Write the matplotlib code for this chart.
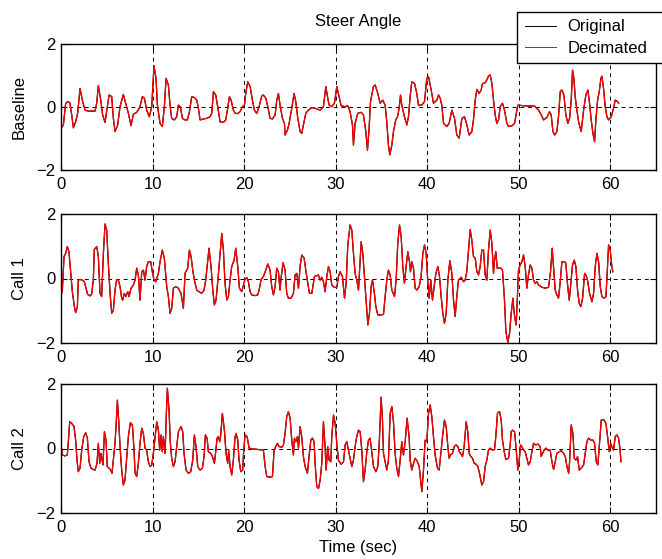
import matplotlib
matplotlib.use("Agg")
import matplotlib.pyplot as plt

plt.rcParams['font.family'] = ['Liberation Sans', 'DejaVu Sans']
plt.rcParams['font.size'] = 12

# Baseline steer angle (time in sec, value)
t_base = [0.00, 0.26, 0.51, 0.80, 0.98, 1.17, 1.35, 1.60, 1.82, 2.08, 2.33, 2.62, 2.99, 3.72, 3.90,
          4.08, 4.34, 4.55, 4.81, 5.06, 5.25, 5.54, 5.72, 5.90, 6.19, 6.45, 6.81, 7.07, 7.36, 7.65,
          7.91, 8.27, 8.63, 8.89, 9.11, 9.36, 9.65, 9.91, 10.16, 10.38, 10.53, 10.82, 11.07, 11.29,
          11.48, 11.73, 11.91, 12.09, 12.39, 12.64, 12.82, 13.04, 13.26, 13.55, 13.81, 14.03, 14.28,
          14.57, 14.83, 15.01, 15.19, 15.56, 15.92, 16.28, 16.47, 16.65, 16.90, 17.12, 17.38, 17.74,
          18.00, 18.21, 18.40, 18.58, 18.83, 19.02, 19.31, 19.56, 19.82, 20.04, 20.18, 20.40, 20.66,
          20.91, 21.13, 21.38, 21.64, 21.93, 22.11, 22.37, 22.59, 22.84, 23.10, 23.39, 23.57, 23.75,
          23.93, 24.19, 24.41, 24.48, 24.74, 24.92, 25.21, 25.46, 25.65, 25.87, 26.12, 26.30, 26.48,
          26.74, 27.03, 27.40, 27.76, 28.31, 28.67, 28.93, 29.11, 29.29, 29.58, 29.87, 30.13, 30.38,
          30.60, 31.04, 31.33, 31.58, 31.84, 31.95, 32.13, 32.42, 32.79, 33.04, 33.30, 33.48, 33.66,
          33.81, 34.13, 34.32, 34.61, 34.86, 35.15, 35.41, 35.59, 35.77, 35.92, 36.14, 36.32, 36.57,
          36.76, 36.94, 37.09, 37.23, 37.52, 37.78, 37.96, 38.14, 38.32, 38.62, 38.87, 39.05, 39.42,
          39.71, 39.96, 40.15, 40.44, 40.69, 41.06, 41.24, 41.42, 41.60, 41.79, 42.15, 42.40, 42.70,
          42.99, 43.24, 43.50, 43.79, 44.08, 44.34, 44.59, 44.88, 45.06, 45.25, 45.43, 45.68, 45.90,
          46.05, 46.27, 46.52, 46.70, 46.89, 47.07, 47.25, 47.43, 47.61, 47.80, 47.98, 48.23, 48.45,
          48.71, 48.89, 49.25, 49.55, 49.80, 49.91, 50.53, 51.26, 51.62, 51.80, 52.17, 52.46, 52.72,
          53.08, 53.37, 53.55, 53.74, 53.92, 54.17, 54.35, 54.54, 54.72, 54.94, 55.15, 55.37, 55.56,
          55.74, 55.88, 56.03, 56.17, 56.36, 56.54, 56.83, 57.09, 57.34, 57.56, 57.74, 57.92, 58.11,
          58.29, 58.43, 58.62, 58.80, 58.98, 59.09, 59.27, 59.45, 59.64, 59.82, 60.11, 60.36, 60.55,
          60.80, 60.91]
v_base = [-0.68, -0.57, 0.12, 0.17, 0.12, -0.25, -0.66, -0.47, -0.20, 0.59, 0.22, -0.10, -0.13, -0.13, 0.12,
          0.68, 0.22, -0.25, -0.49, 0.01, 0.38, 0.33, -0.36, -0.78, -0.57, 0.01, 0.40, 0.12, -0.20, -0.59,
          -0.23, -0.17, 0.01, 0.33, 0.28, -0.10, -0.31, 0.01, 1.31, 0.91, 0.06, -0.52, -0.62, 0.01,
          0.91, 0.70, 0.06, -0.36, -0.41, -0.31, 0.06, 0.01, -0.36, -0.41, -0.41, -0.15, 0.33,
          0.30, 0.22, -0.04, -0.41, -0.38, -0.36, -0.31, -0.20, 0.49, 0.38, 0.01, -0.47, -0.49,
          -0.41, -0.04, 0.33, 0.22, -0.10, -0.20, -0.21, -0.15, 0.01, 0.06, 0.43, 0.80, 0.65,
          0.22, -0.10, -0.20, 0.01, 0.35, 0.38, 0.28, 0.01, -0.36, -0.38, -0.25, 0.22, 0.43,
          0.06, -0.36, -0.52, -0.89, -0.73, -0.52, -0.04, 0.43, 0.17, -0.36, -0.78, -0.84, -0.57,
          -0.20, -0.10, -0.02, -0.04, -0.10, 0.01, 0.65, 0.33, 0.06, 0.01, 0.12, 0.65, 0.33,
          0.04, 0.01, 0.04, -0.15, -0.57, -1.21, -0.52, -0.20, -0.17, -0.25, -0.78, -1.37, -0.68,
          0.17, 0.65, 0.70, 0.43, 0.12, 0.22, 0.06, -0.47, -1.21, -1.52, -1.21, -0.78, -0.41,
          -0.31, -0.04, 0.38, 0.06, -0.31, -0.57, -0.31, 0.33, 0.80, 0.75, 0.43, 0.06, 0.06,
          0.17, 0.91, 0.96, 0.54, 0.12, 0.22, 0.38, 0.28, 0.06, -0.52, -0.62, -0.52, -0.10,
          -0.36, -0.89, -0.99, -0.36, -0.31, -0.57, -0.89, -0.78, -0.41, 0.22, 0.56, 0.43, 0.54,
          0.75, 0.75, 0.86, 0.98, 1.02, 0.75, 0.22, -0.25, -0.52, -0.41, 0.01, 0.12, -0.10,
          -0.52, -0.62, -0.60, -0.52, -0.10, 0.06, 0.04, 0.03, 0.04, 0.01, -0.10, -0.25, -0.41,
          -0.33, -0.15, -0.25, -0.78, -0.89, -0.78, -0.31, 0.49, 0.54, 0.38, -0.25, -0.52, -0.36,
          0.22, 1.17, 0.91, 0.33, -0.10, -0.47, -0.78, -0.10, 0.38, 0.54, 0.12, -0.41, -0.84,
          -1.10, -0.41, 0.22, 0.49, 0.91, 0.98, 0.59, 0.01, -0.31, -0.41, -0.31, -0.04, 0.22,
          0.17, 0.12]

# Call 1 steer angle
t_call1 = [0.00, 0.15, 0.33, 0.51, 0.69, 0.87, 1.06, 1.24, 1.46, 1.60, 1.79, 1.89, 2.08, 2.33, 2.55,
           2.73, 2.91, 3.17, 3.35, 3.53, 3.64, 3.90, 4.08, 4.26, 4.44, 4.63, 4.81, 4.99, 5.17, 5.36,
           5.54, 5.72, 5.90, 6.08, 6.27, 6.45, 6.63, 6.74, 6.92, 7.07, 7.29, 7.43, 7.65, 7.91, 8.09,
           8.27, 8.45, 8.63, 8.82, 9.00, 9.18, 9.36, 9.54, 9.80, 9.98, 10.16, 10.35, 10.64, 10.82,
           11.07, 11.29, 11.55, 11.73, 11.91, 12.09, 12.28, 12.53, 12.82, 13.11, 13.37, 13.55, 13.84,
           14.03, 14.21, 14.39, 14.57, 14.83, 15.08, 15.37, 15.63, 15.81, 16.03, 16.17, 16.39, 16.58,
           16.76, 16.94, 17.19, 17.41, 17.56, 17.74, 17.92, 18.11, 18.29, 18.47, 18.65, 18.91, 19.09,
           19.31, 19.49, 19.75, 19.93, 20.11, 20.29, 20.47, 20.66, 20.84, 21.20, 21.49, 21.64, 21.86,
           22.11, 22.37, 22.59, 22.84, 23.02, 23.21, 23.39, 23.57, 23.75, 23.93, 24.04, 24.26, 24.48,
           24.66, 24.84, 25.14, 25.39, 25.57, 25.76, 25.94, 26.12, 26.30, 26.56, 26.74, 26.96, 27.14,
           27.40, 27.69, 27.87, 28.12, 28.31, 28.49, 28.67, 28.85, 29.04, 29.22, 29.40, 29.58, 29.87,
           30.13, 30.31, 30.49, 30.75, 30.97, 31.15, 31.33, 31.58, 31.77, 31.95, 32.13, 32.31, 32.50,
           32.79, 32.97, 33.15, 33.33, 33.52, 33.70, 33.88, 34.03, 34.24, 34.39, 34.61, 34.98, 35.23,
           35.41, 35.59, 35.77, 35.96, 36.14, 36.43, 36.61, 36.79, 36.98, 37.16, 37.34, 37.52, 37.70,
           37.89, 38.07, 38.18, 38.32, 38.51, 38.69, 38.87, 39.13, 39.34, 39.53, 39.71, 39.89, 40.07,
           40.22, 40.40, 40.58, 40.77, 40.95, 41.17, 41.35, 41.53, 41.71, 41.89, 42.08, 42.26, 42.48,
           42.70, 42.88, 43.06, 43.24, 43.42, 43.72, 43.97, 44.15, 44.33, 44.52, 44.70, 44.88, 45.06,
           45.25, 45.43, 45.61, 45.79, 45.97, 46.16, 46.34, 46.52, 46.70, 46.89, 47.07, 47.25, 47.36,
           47.50, 47.65, 48.05, 48.23, 48.45, 48.60, 48.82, 49.00, 49.18, 49.37, 49.47, 49.62, 49.73,
           49.84, 49.98, 50.16, 50.35, 50.53, 50.71, 50.89, 51.07, 51.26, 51.44, 51.62, 51.80, 51.99,
           52.17, 52.53, 52.90, 53.26, 53.48, 53.66, 53.81, 53.99, 54.17, 54.35, 54.54, 54.72, 55.01,
           55.15, 55.34, 55.52, 55.70, 55.88, 56.07, 56.25, 56.43, 56.61, 56.79, 56.98, 57.20, 57.34,
           57.52, 57.74, 58.00, 58.18, 58.36, 58.55, 58.73, 58.91, 59.09, 59.34, 59.53, 59.64, 59.82,
           60.00, 60.18, 60.29]
v_call1 = [-0.56, -0.36, 0.68, 0.78, 0.99, 0.83, 0.21, -0.41, -0.87, -1.06, -0.87, -0.05, -0.03, -0.05, -0.10,
           -0.30, -0.49, -0.54, -0.48, -0.05, 0.90, 0.99, 0.68, -0.46, -0.56, 0.78, 1.69, 1.50, 0.47, -0.46,
           -1.08, -0.98, -0.36, -0.03, -0.05, -0.25, -0.61, -0.67, -0.46, -0.56, -0.41, -0.56, -0.30, -0.20, -0.05,
           0.32, 0.11, -0.67, 0.21, 0.26, -0.05, 0.37, 0.52, 0.52, 0.21, -0.05, -0.10, 0.16, 0.52,
           0.88, 0.63, -0.25, -0.56, -1.08, -0.93, -0.30, -0.25, -0.30, -0.46, -0.93, 0.16, 0.32,
           0.88, 0.68, 0.26, -0.05, -0.36, -0.41, -0.46, -0.36, -0.05, 0.57, 0.94, 0.37, -0.36,
           -0.82, -0.67, 0.11, 0.88, 1.40, 0.88, -0.15, -0.67, -0.56, -0.05, 0.37, 0.57, 0.94,
           0.37, -0.30, -0.41, -0.20, -0.02, 0.03, -0.10, -0.41, -0.51, -0.53, -0.51, -0.36, -0.03,
           0.06, 0.26, 0.45, 0.26, -0.25, -0.51, -0.25, 0.32, 0.21, -0.36, 0.01, 0.49, 0.26,
           -0.46, -0.61, -0.61, -0.46, 0.11, 0.16, -0.30, 0.37, 0.73, 0.63, 0.26, -0.15, -0.46,
           -0.46, 0.06, 0.08, 0.11, -0.05, 0.04, -0.10, -0.41, 0.06, 0.37, 0.21, -0.20, -0.28,
           -0.27, 0.06, 0.21, 0.06, -0.61, -0.15, 1.04, 1.66, 1.50, 0.78, 0.16, -0.05, -0.36,
           1.14, 0.78, 0.06, -0.67, -1.44, -1.08, -0.25, -0.05, -0.46, -0.87, -1.13, -1.13, -1.11,
           -0.56, -0.05, 0.26, 0.11, -0.36, -0.56, -0.05, 1.09, 1.66, 1.30, 0.37, -0.15, 0.37,
           0.83, 0.52, 0.21, 0.52, 0.32, -0.30, -0.36, -0.25, 0.06, 0.78, 1.04, 0.78, -0.10,
           -0.61, -0.05, -0.67, -0.25, 0.16, 0.37, 0.06, -0.56, -1.08, -1.39, -1.08, -0.05, 0.55,
           0.16, -0.67, -1.18, -0.56, -0.05, 0.04, -0.10, -0.05, 0.21, 0.88, 1.52, 1.19, 0.68,
           0.63, 0.21, 0.11, 0.37, 0.88, 0.88, 0.11, -0.05, 0.88, 1.50, 1.09, 0.16, 0.57,
           0.83, 0.32, 0.32, 0.26, -0.67, -1.65, -1.98, -1.70, -1.08, -0.61, -0.98, -1.29, -1.44,
           -0.67, 0.26, 0.42, 0.52, 0.73, 0.37, -0.30, 0.11, 0.42, 0.32, -0.05, -0.15, -0.10,
           -0.20, -0.27, -0.30, -0.27, 0.21, 0.94, 0.37, -0.36, -0.51, -0.61, -0.10, 0.52, 0.52,
           0.47, -0.20, -0.67, -0.15, 0.42, 0.57, 0.37, -0.36, -0.77, -0.87, -0.61, 0.16, 0.11,
           -0.05, -0.46, -0.72, -0.46, 0.37, 0.78, 0.52, -0.25, -0.56, -0.61, -0.56, 0.01, 1.04,
           0.88, 0.37, 0.21]

# Call 2 steer angle
t_call2 = [0.00, 0.15, 0.44, 0.69, 0.80, 0.95, 1.17, 1.42, 1.60, 1.75, 1.89, 2.08, 2.26, 2.48, 2.70,
           2.88, 3.06, 3.28, 3.53, 3.72, 3.93, 4.08, 4.23, 4.37, 4.59, 4.74, 4.92, 5.06, 5.25, 5.43,
           5.57, 5.72, 5.90, 6.05, 6.16, 6.30, 6.45, 6.63, 6.81, 6.99, 7.18, 7.36, 7.58, 7.80, 7.98,
           8.09, 8.27, 8.45, 8.63, 8.82, 9.00, 9.18, 9.36, 9.54, 9.73, 9.91, 10.09, 10.27, 10.46,
           10.64, 10.78, 10.93, 11.07, 11.18, 11.37, 11.51, 11.62, 11.80, 11.95, 12.09, 12.28, 12.46,
           12.64, 12.82, 13.11, 13.30, 13.44, 13.66, 13.92, 14.17, 14.39, 14.57, 14.75, 14.94, 15.19,
           15.45, 15.63, 15.77, 15.96, 16.10, 16.36, 16.54, 16.76, 16.90, 17.05, 17.19, 17.34, 17.45,
           17.63, 17.85, 18.03, 18.21, 18.32, 18.47, 18.65, 18.83, 19.02, 19.13, 19.31, 19.45, 19.64,
           19.85, 19.96, 20.11, 20.33, 20.55, 21.20, 22.11, 22.30, 22.48, 22.84, 23.10, 23.28, 23.46,
           23.64, 23.83, 24.12, 24.30, 24.48, 24.66, 24.84, 25.03, 25.21, 25.39, 25.50, 25.65, 25.83,
           25.94, 26.12, 26.30, 26.48, 26.67, 26.92, 27.10, 27.29, 27.47, 27.65, 27.76, 27.94, 28.13,
           28.31, 28.49, 28.67, 28.85, 28.96, 29.14, 29.29, 29.47, 29.58, 29.77, 29.95, 30.13, 30.31,
           30.60, 30.86, 31.04, 31.22, 31.40, 31.58, 31.77, 31.95, 32.13, 32.31, 32.50, 32.68, 32.86,
           33.04, 33.22, 33.41, 33.59, 33.77, 33.95, 34.14, 34.39, 34.61, 34.75, 34.97, 35.12, 35.23,
           35.41, 35.59, 35.77, 35.96, 36.14, 36.32, 36.50, 36.68, 36.87, 37.05, 37.23, 37.41, 37.60,
           37.81, 38.03, 38.14, 38.32, 38.51, 38.69, 38.94, 39.13, 39.31, 39.42, 39.60, 39.78, 39.96,
           40.15, 40.33, 40.51, 40.69, 40.87, 41.13, 41.31, 41.49, 41.68, 41.89, 42.08, 42.26, 42.40,
           42.55, 42.77, 42.99, 43.17, 43.35, 43.53, 43.86, 44.04, 44.26, 44.44, 44.59, 44.77, 44.95,
           45.14, 45.32, 45.54, 45.72, 45.86, 45.97, 46.16, 46.34, 46.52, 46.70, 46.89, 47.14, 47.36,
           47.50, 47.69, 47.91, 48.09, 48.23, 48.42, 48.60, 48.89, 49.07, 49.18, 49.33, 49.55, 49.73,
           49.91, 50.06, 50.20, 50.35, 50.53, 50.71, 50.89, 51.07, 51.26, 51.44, 51.62, 51.88, 52.10,
           52.35, 52.46, 52.61, 52.79, 52.97, 53.19, 53.44, 53.63, 53.81, 53.99, 54.17, 54.43, 54.65,
           54.91, 55.09, 55.27, 55.46, 55.56, 55.74, 55.92, 56.07, 56.25, 56.43, 56.61, 56.83, 57.09,
           57.27, 57.45, 57.63, 57.89, 58.11, 58.29, 58.47, 58.65, 58.83, 59.02, 59.28, 59.53, 59.71,
           59.89, 60.04, 60.18, 60.36, 60.55, 60.73, 60.91, 61.06, 61.17]
v_call2 = [0.11, -0.20, -0.23, -0.20, 0.21, 0.83, 0.78, 0.68, 0.26, -0.36, -0.72, -0.61, -0.05, 0.37, 0.49,
           0.32, -0.41, -0.61, -0.65, -0.67, -0.46, 0.16, -0.46, -0.15, -0.51, 0.52, 0.26, -0.56, -0.61, -0.67,
           -0.77, -0.36, 0.16, 0.88, 1.50, 0.88, 0.06, -0.67, -1.13, -0.98, -0.30, 0.37, 0.80, 0.73, -0.05,
           -0.77, -0.87, -0.46, 0.16, 0.63, 0.47, 0.01, -0.05, -0.41, -0.56, -0.51, -0.15, 0.32, 0.83,
           0.57, -0.05, 0.42, -0.10, 0.37, -0.15, 1.09, 1.87, 1.19, 0.16, -0.30, -0.56, -0.41,
           0.06, 0.52, 0.68, 0.52, -0.15, -0.67, -0.77, -0.72, -0.36, 0.42, 0.06, -0.56, -0.67,
           -0.61, -0.25, 0.42, 0.32, -0.10, -0.15, -0.25, -0.46, -0.10, 0.32, 0.37, 0.21, 0.42,
           1.09, 0.57, -0.15, -0.46, -0.05, -0.56, -0.82, -0.36, 0.37, 0.47, 0.26, -0.36, -0.72,
           -0.67, -0.05, 0.42, 0.37, 0.01, -0.02, -0.05, -0.56, -0.87, -0.89, -0.87, -0.05, 0.06,
           0.16, 0.06, 0.04, 0.11, 0.47, 0.99, 1.14, 0.94, 0.26, -0.20, 0.32, 0.21, 0.37,
           0.01, 0.68, 0.37, -0.25, -0.56, -0.77, -0.25, 0.26, 0.32, 0.21, -0.46, -1.18, -1.24,
           -0.98, -0.46, 0.83, 0.06, -0.67, 0.06, -0.36, -0.41, 0.37, 1.04, 0.78, 0.16, -0.36,
           -0.49, -0.41, 0.11, 0.21, -0.05, -0.30, -0.56, -0.36, 0.06, 0.37, 0.57, 0.52, -0.05,
           -1.03, -0.67, -0.10, 0.26, 0.32, -0.10, -0.56, -0.72, -0.56, 0.06, 1.59, 0.88, -0.15,
           -0.41, -0.67, -0.36, 1.09, 1.30, 0.83, -0.15, -0.61, -0.87, -0.36, 0.21, -0.20, 0.21,
           0.94, 0.37, -0.36, -0.67, -0.46, -0.30, -0.41, -0.56, -1.03, -1.34, -0.67, 0.26, 0.21,
           1.09, 1.35, 0.99, 0.37, -0.20, -0.61, -0.67, -0.15, 0.37, 0.88, 0.68, 0.06, -0.30,
           -0.20, -0.15, 0.08, 0.11, 0.06, -0.10, -0.25, 0.06, 0.83, 0.52, -0.15, -0.25, -0.30,
           -0.46, -0.48, -0.56, -0.77, -0.98, -1.13, -1.03, -0.56, -0.36, -0.05, 0.01, -0.05, -0.03,
           0.37, 1.11, 1.14, 0.88, 0.26, -0.10, -0.34, -0.30, 0.11, 0.52, 0.57, 0.52, -0.05,
           -0.67, -0.36, 0.11, 0.06, -0.05, -0.10, -0.30, -0.51, -0.41, -0.10, 0.16, 0.11, 0.14,
           0.06, -0.25, -0.15, -0.05, 0.01, -0.05, -0.05, -0.41, -0.65, -0.41, -0.15, -0.10, -0.07,
           -0.15, -0.25, -0.56, -0.77, -0.41, 0.73, 0.47, -0.30, -0.36, -0.25, -0.67, -0.61, -0.51,
           -0.15, 0.21, 0.32, 0.26, 0.26, 0.16, -0.41, -0.51, 0.16, 0.88, 0.90, 0.78, 0.37,
           -0.10, 0.16, 0.06, -0.05, 0.37, 0.42, 0.32, 0.01, -0.41]

panels = [("Baseline", t_base, v_base),
          ("Call 1", t_call1, v_call1),
          ("Call 2", t_call2, v_call2)]

W, H = 662, 559
fig = plt.figure(figsize=(W / 100, H / 100), dpi=100)

# axes boxes in pixels: (top, bottom)
boxes = [(44, 170), (214, 343), (384, 513)]
left, right = 61, 656

axes = []
for (name, t, v), (top, bot) in zip(panels, boxes):
    ax = fig.add_axes([left / W, 1 - bot / H, (right - left) / W, (bot - top) / H])
    l1, = ax.plot(t, v, color='black', lw=0.9, label='Original')
    l2, = ax.plot(t, v, color='#ff0000', lw=0.9, label='Decimated')
    ax.set_xlim(0, 65)
    ax.set_ylim(-2, 2)
    ax.set_xticks([0, 10, 20, 30, 40, 50, 60])
    ax.set_yticks([-2, 0, 2])
    ax.grid(True, color='black', linestyle=(0, (4, 4)), linewidth=0.7)
    ax.tick_params(direction='in', top=True, right=True, length=4, width=0.8, labelsize=12)
    ax.tick_params(axis='x', pad=5)
    ax.tick_params(axis='y', pad=4)
    for s in ax.spines.values():
        s.set_linewidth(1.0)
    ax.set_ylabel(name, fontsize=12)
    ax.yaxis.set_label_coords(-0.057, 0.5)
    axes.append(ax)

axes[0].set_title("Steer Angle", fontsize=12, pad=13)
axes[2].set_xlabel("Time (sec)", fontsize=12)
axes[2].xaxis.set_label_coords(0.5, -0.21)

# legend box: left 517 px, top 12 px, bottom 62 px, runs past the right edge
leg = fig.legend([l1, l2], ['Original', 'Decimated'], loc='upper left',
                 bbox_to_anchor=(517 / W, 1 - 62 / H, 150 / W, 50 / H), mode='expand',
                 fancybox=False, framealpha=1, edgecolor='black', fontsize=12,
                 handlelength=1.86, borderpad=0.45, labelspacing=0.37, handletextpad=0.72,
                 borderaxespad=0)
leg.get_frame().set_linewidth(1.0)
for h in leg.get_lines():
    h.set_linewidth(0.7)

fig.savefig("out.png", dpi=100)
